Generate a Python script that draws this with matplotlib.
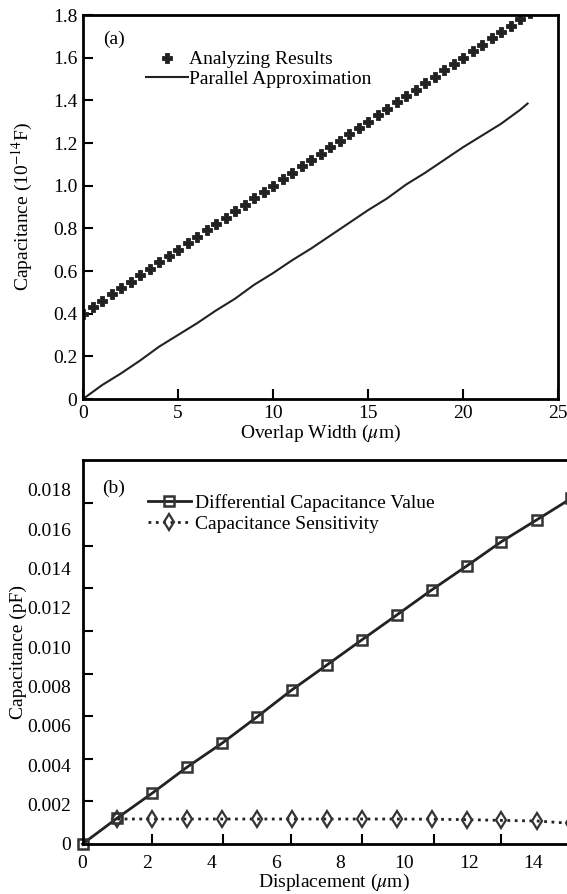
import matplotlib
matplotlib.use("Agg")
import matplotlib.pyplot as plt
from matplotlib.ticker import FixedLocator, NullFormatter

plt.rcParams['font.family'] = ['Liberation Serif', 'DejaVu Serif']
plt.rcParams['mathtext.fontset'] = 'stix'

# (a) overlap width sweep
overlap_marks = [0, 0.5, 1.0, 1.5, 2.0, 2.5, 3.0, 3.5, 4.0, 4.5, 5.0, 5.5, 6.0, 6.5, 7.0, 7.5,
                 8.0, 8.5, 9.0, 9.5, 10.0, 10.5, 11.0, 11.5, 12.0, 12.5, 13.0, 13.5, 14.0, 14.5,
                 15.0, 15.5, 16.0, 16.5, 17.0, 17.5, 18.0, 18.5, 19.0, 19.5, 20.0, 20.5, 21.0,
                 21.5, 22.0, 22.5, 23.0, 23.5]
analyzing = [0.40, 0.43, 0.46, 0.49, 0.52, 0.55, 0.58, 0.61, 0.64, 0.67, 0.70, 0.73, 0.76, 0.79,
             0.82, 0.85, 0.88, 0.91, 0.94, 0.97, 1.00, 1.03, 1.06, 1.09, 1.12, 1.15, 1.18, 1.21,
             1.24, 1.27, 1.30, 1.33, 1.36, 1.39, 1.42, 1.45, 1.48, 1.51, 1.54, 1.57, 1.60, 1.63,
             1.66, 1.69, 1.72, 1.75, 1.78, 1.81]
overlap_line = [0, 1, 2, 3, 4, 5, 6, 7, 8, 9, 10, 11, 12, 13, 14, 15, 16, 17, 18, 19, 20, 21,
                22, 23, 23.4]
parallel = [0.0, 0.065, 0.12, 0.18, 0.245, 0.30, 0.355, 0.415, 0.47, 0.535, 0.59, 0.65, 0.705,
            0.765, 0.825, 0.885, 0.94, 1.005, 1.06, 1.12, 1.18, 1.235, 1.29, 1.355, 1.385]

# (b) displacement sweep
displacement = [0, 1.08, 2.17, 3.25, 4.34, 5.42, 6.5, 7.59, 8.67, 9.76, 10.84, 11.93, 13.01,
                14.1, 15.18]
diff_cap = [0, 0.00132, 0.00259, 0.00391, 0.00513, 0.00646, 0.00783, 0.0091, 0.01037,
            0.01164, 0.01291, 0.01413, 0.01537, 0.01647, 0.01757]
sensitivity = [0.00127, 0.00127, 0.00127, 0.00127, 0.00127, 0.00127, 0.00127, 0.00127,
               0.00127, 0.00126, 0.00124, 0.0012, 0.00117, 0.00105]

xt_a = [0, 5, 10, 15, 20, 25]
yt_a = [0, 0.2, 0.4, 0.6, 0.8, 1.0, 1.2, 1.4, 1.6, 1.8]
yt_a_lab = ['0', '0.2', '0.4', '0.6', '0.8', '1.0', '1.2', '1.4', '1.6', '1.8']
xt_b = [0, 2, 4, 6, 8, 10, 12, 14]
yt_b = [0, 0.002, 0.004, 0.006, 0.008, 0.010, 0.012, 0.014, 0.016, 0.018]
yt_b_lab = ['0', '0.002', '0.004', '0.006', '0.008', '0.010', '0.012', '0.014', '0.016', '0.018']

FS = 14
ink = '#222222'

fig = plt.figure(figsize=(5.67, 8.94), dpi=100)

# ---------- (a) ----------
ax1 = fig.add_axes([83 / 567, 1 - 399 / 894, 475 / 567, 384 / 894])
ax1.plot(overlap_marks, analyzing, 'P', color=ink, markersize=7, markeredgewidth=0.6,
         label='Analyzing Results')
ax1.plot(overlap_line, parallel, '-', color=ink, lw=1.5, label='Parallel Approximation')
ax1.set_xlim(0, 25)
ax1.set_ylim(0, 1.8)
ax1.set_xticks(xt_a)
ax1.set_xticklabels([str(v) for v in xt_a])
ax1.set_yticks(yt_a)
ax1.set_yticklabels(yt_a_lab)
ax1.tick_params(direction='in', length=7, width=1.5, labelsize=FS, pad=4)
ax1.set_xlabel(r'Overlap Width ($\mu$m)', fontsize=FS, labelpad=1)
ax1.set_ylabel(r'Capacitance (10$^{-14}$F)', fontsize=FS, labelpad=13)
ax1.text(0.065, 0.9375, '(a)', transform=ax1.transAxes, fontsize=FS, va='center', ha='center')
ax1.legend(loc='upper left', bbox_to_anchor=(0.132, 0.907), frameon=False, fontsize=FS,
           numpoints=1, handlelength=2.2, handletextpad=0.05, labelspacing=0.1,
           borderpad=0, borderaxespad=0)
for s in ax1.spines.values():
    s.set_linewidth(2)

# ---------- (b) ----------
ax2 = fig.add_axes([82.5 / 567, 1 - 844 / 894, 502.5 / 567, 384 / 894])
ax2.plot(displacement, diff_cap, '-s', color=ink, lw=2, markersize=7.5, mfc='none',
         mec='#333333', mew=1.8, label='Differential Capacitance Value', clip_on=False)
ax2.plot(displacement[1:], sensitivity, ':d', color=ink, lw=2, markersize=8, mfc='none',
         mec='#333333', mew=1.6, label='Capacitance Sensitivity')
ax2.set_xlim(0, 502.5 / 32.2)
ax2.set_ylim(0, 0.01952)
ax2.xaxis.set_major_locator(FixedLocator(xt_b))
ax2.set_xticklabels([str(v) for v in xt_b])
ax2.yaxis.set_major_locator(FixedLocator(yt_b))
ax2.set_yticklabels(yt_b_lab)
# the printed tick marks do not sit under their labels
ax2.xaxis.set_minor_locator(FixedLocator([2.16, 4.37, 6.49, 8.69, 10.91, 13.01]))
ax2.yaxis.set_minor_locator(FixedLocator([0.00217, 0.00433, 0.0065, 0.00866, 0.01083,
                                          0.013, 0.01516, 0.01733]))
ax2.xaxis.set_minor_formatter(NullFormatter())
ax2.yaxis.set_minor_formatter(NullFormatter())
ax2.tick_params(which='major', length=0, labelsize=FS, pad=8)
ax2.tick_params(which='minor', direction='in', length=7, width=1.5)
ax2.set_xlabel(r'Displacement ($\mu$m)', fontsize=FS, labelpad=0)
ax2.set_ylabel('Capacitance (pF)', fontsize=FS, labelpad=0)
ax2.text(0.061, 0.925, '(b)', transform=ax2.transAxes, fontsize=FS, va='center', ha='center')
ax2.legend(loc='upper left', bbox_to_anchor=(0.13, 0.912), frameon=False, fontsize=FS,
           numpoints=1, handlelength=2.2, handletextpad=0.25, labelspacing=0.2,
           borderpad=0, borderaxespad=0)
for s in ax2.spines.values():
    s.set_linewidth(2)

fig.savefig('out.png', dpi=100)
